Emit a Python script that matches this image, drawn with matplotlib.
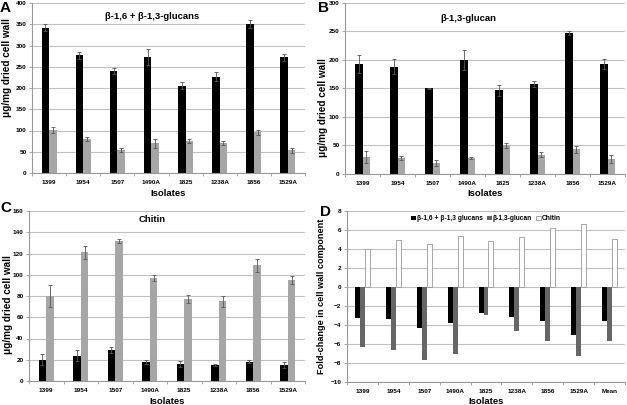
import matplotlib
matplotlib.use("Agg")
import matplotlib.pyplot as plt
import numpy as np

plt.rcParams['font.family'] = ['Liberation Sans', 'DejaVu Sans']
plt.rcParams['font.weight'] = 'bold'

isolates = ["1399", "1954", "1507", "1490A", "1825", "1238A", "1856", "1529A"]
isolates_d = isolates + ["Mean"]

# Panel A: beta-1,6 + beta-1,3 glucans
a_black = [342, 277, 239, 273, 205, 227, 351, 272]
a_black_err = [8, 8, 7, 18, 8, 11, 10, 8]
a_gray = [102, 80, 54, 70, 75, 70, 96, 54]
a_gray_err = [7, 5, 4, 11, 5, 5, 6, 6]

# Panel B: beta-1,3 glucan
b_black = [193, 188, 150, 200, 147, 158, 247, 193]
b_black_err = [15, 13, 1, 17, 10, 5, 3, 8]
b_gray = [30, 28, 19, 28, 50, 34, 43, 26]
b_gray_err = [10, 3, 5, 1, 5, 4, 6, 7]

# Panel C: chitin
c_black = [20, 24, 29, 18, 16, 15, 18, 15]
c_black_err = [5, 5, 3, 2, 3, 1, 1.5, 2.5]
c_gray = [80, 121, 132, 97, 77, 75, 109, 95]
c_gray_err = [10, 6, 2, 3, 4, 5, 6, 4]

# Panel D: fold change
d_glucans = [-3.3, -3.4, -4.3, -3.8, -2.7, -3.2, -3.6, -5.0, -3.6]
d_b13 = [-6.3, -6.6, -7.7, -7.1, -2.9, -4.6, -5.7, -7.3, -5.65]
d_chitin = [4.0, 5.0, 4.5, 5.4, 4.8, 5.3, 6.2, 6.6, 5.1]
d_legend = ["β-1,6 + β-1,3 glucans", "β-1,3-glucan", "Chitin"]

W, H = 627, 405
fig = plt.figure(figsize=(W / 100, H / 100), dpi=100)

def px_axes(left, top, right, bottom):
    return fig.add_axes([left / W, 1 - bottom / H, (right - left) / W, (bottom - top) / H])

GRID = '#c0c0c0'
BLACK = '#000000'
LGRAY = '#a6a6a6'
DGRAY = '#666666'
ERR = '#555555'
YLFS = 7.2

def style(ax, ymin, ymax, step, cats):
    ax.set_ylim(ymin, ymax)
    ax.set_yticks(np.arange(ymin, ymax + step / 2, step))
    ax.set_xlim(-0.5, len(cats) - 0.5)
    ax.set_xticks(range(len(cats)))
    ax.set_xticklabels(cats)
    ax.set_xticks(np.arange(-0.5, len(cats), 1.0), minor=True)
    ax.yaxis.grid(True, color=GRID, linewidth=0.8)
    ax.set_axisbelow(True)
    for s in ['top', 'right']:
        ax.spines[s].set_visible(False)
    for s in ['left', 'bottom']:
        ax.spines[s].set_color('#999999')
        ax.spines[s].set_linewidth(0.8)
    ax.tick_params(axis='y', labelsize=4.6, length=2, width=0.6, color='#999999', pad=2)
    ax.tick_params(axis='x', which='major', labelsize=4.6, length=0, pad=5)
    ax.tick_params(axis='x', which='minor', length=2, width=0.6, color='#999999')
    for lab in ax.get_xticklabels() + ax.get_yticklabels():
        lab.set_fontweight('bold')
    ax.set_xlabel("Isolates", fontsize=6.8, fontweight='bold')
    hpx = ax.get_position().height * H
    ax.xaxis.set_label_coords(0.5, -15.5 / hpx)

def two_bar(ax, black, berr, gray, gerr):
    x = np.arange(len(black))
    w = 0.22
    ek = dict(ecolor=ERR, elinewidth=0.6, capsize=1.2, capthick=0.6)
    ax.bar(x - w / 2, black, w, color=BLACK, yerr=berr, error_kw=ek, zorder=2)
    ax.bar(x + w / 2, gray, w, color=LGRAY, yerr=gerr, error_kw=ek, zorder=2)

ylab = "μg/mg dried cell wall"

# A
axA = px_axes(32, 3, 305, 173)
two_bar(axA, a_black, a_black_err, a_gray, a_gray_err)
style(axA, 0, 400, 50, isolates)
axA.set_ylabel(ylab, fontsize=YLFS, fontweight='bold')
axA.yaxis.set_label_coords(-0.072, 0.62)
axA.text(0.44, 0.92, "β-1,6 + β-1,3-glucans", transform=axA.transAxes,
         ha='center', va='center', fontsize=6.8, fontweight='bold')

# B
axB = px_axes(345, 3, 625, 174)
two_bar(axB, b_black, b_black_err, b_gray, b_gray_err)
style(axB, 0, 300, 50, isolates)
axB.set_ylabel(ylab, fontsize=YLFS, fontweight='bold')
axB.yaxis.set_label_coords(-0.062, 0.39)
axB.text(0.44, 0.91, "β-1,3-glucan", transform=axB.transAxes,
         ha='center', va='center', fontsize=6.8, fontweight='bold')

# C
axC = px_axes(29, 211, 305, 381)
two_bar(axC, c_black, c_black_err, c_gray, c_gray_err)
style(axC, 0, 160, 20, isolates)
axC.set_ylabel(ylab, fontsize=YLFS, fontweight='bold')
axC.yaxis.set_label_coords(-0.058, 0.45)
axC.text(0.445, 0.95, "Chitin", transform=axC.transAxes,
         ha='center', va='center', fontsize=6.8, fontweight='bold')

# D
axD = px_axes(347, 211, 625, 382)
xd = np.arange(len(isolates_d))
wd = 0.16
axD.bar(xd - wd, d_glucans, wd, color=BLACK, label=d_legend[0], zorder=2)
axD.bar(xd, d_b13, wd, color=DGRAY, label=d_legend[1], zorder=2)
axD.bar(xd + wd, d_chitin, wd, color='white', edgecolor='#999999', linewidth=0.6,
        label=d_legend[2], zorder=2)
style(axD, -10, 8, 2, isolates_d)
axD.set_ylabel("Fold-change in cell wall component", fontsize=6.6, fontweight='bold')
axD.yaxis.set_label_coords(-0.075, 0.5)
leg = axD.legend(loc='center', bbox_to_anchor=(0.5, 0.955), ncol=3, frameon=False,
                 prop={'size': 4.8}, handlelength=0.7, handleheight=0.7,
                 handletextpad=0.2, columnspacing=0.6, borderaxespad=0)

# Panel letters
for letter, x, y in [("A", 0, 1), ("B", 318, 1), ("C", 0, 201), ("D", 320, 205)]:
    fig.text(x / W, 1 - y / H, letter, fontsize=11, fontweight='bold', ha='left', va='top')

fig.savefig("out.png", dpi=100)
